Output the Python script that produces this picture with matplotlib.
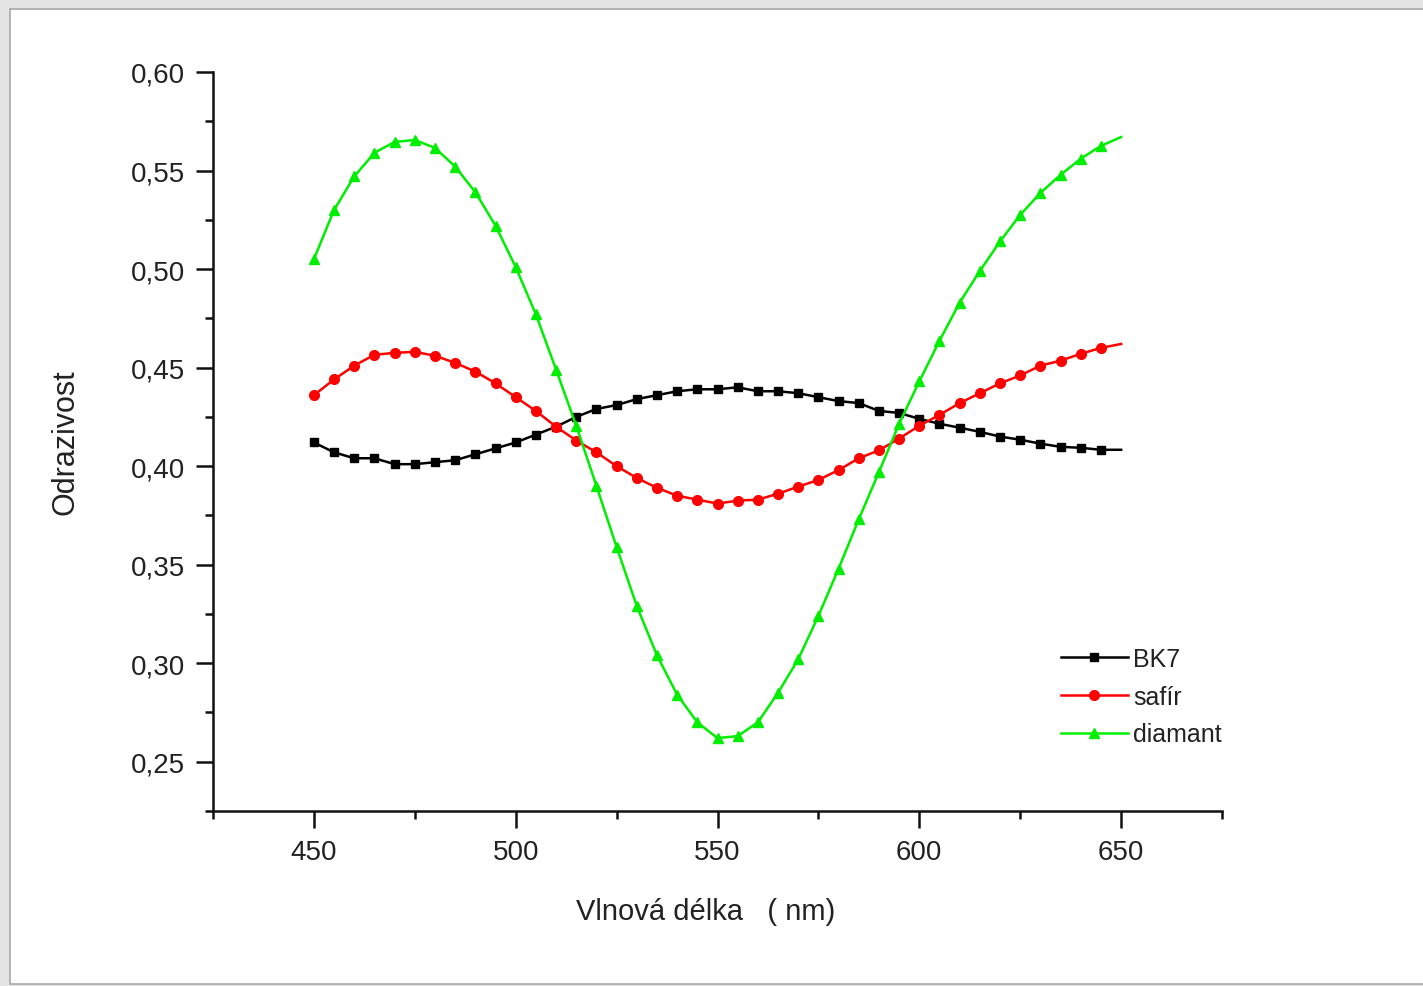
import numpy as np
import matplotlib
matplotlib.use("Agg")
import matplotlib.pyplot as plt
from matplotlib.patches import Rectangle
from matplotlib.ticker import MultipleLocator, FuncFormatter

plt.rcParams['font.family'] = ['Liberation Sans', 'DejaVu Sans']

# wavelength (nm), every 5 nm
vlnova_delka = np.arange(450, 655, 5)

bk7 = [0.412, 0.407, 0.404, 0.404, 0.401, 0.401, 0.402, 0.403, 0.406, 0.409,
       0.412, 0.416, 0.420, 0.425, 0.429, 0.431, 0.434, 0.436, 0.438, 0.439,
       0.439, 0.440, 0.438, 0.438, 0.437, 0.435, 0.433, 0.432, 0.428, 0.427,
       0.424, 0.4215, 0.4195, 0.4174, 0.415, 0.4134, 0.4114, 0.4098, 0.4093, 0.4083,
       0.4083]

safir = [0.436, 0.444, 0.451, 0.4565, 0.4575, 0.458, 0.456, 0.4524, 0.448, 0.442,
         0.435, 0.428, 0.420, 0.413, 0.407, 0.400, 0.394, 0.389, 0.385, 0.383,
         0.381, 0.3825, 0.383, 0.386, 0.3896, 0.393, 0.398, 0.404, 0.408, 0.414,
         0.4205, 0.426, 0.432, 0.437, 0.442, 0.446, 0.451, 0.4535, 0.457, 0.460,
         0.462]

diamant = [0.505, 0.530, 0.547, 0.559, 0.5645, 0.5655, 0.5615, 0.552, 0.539, 0.522,
           0.501, 0.477, 0.449, 0.4205, 0.390, 0.359, 0.329, 0.304, 0.284, 0.270,
           0.262, 0.263, 0.270, 0.285, 0.302, 0.324, 0.348, 0.373, 0.397, 0.4215,
           0.443, 0.4636, 0.483, 0.499, 0.514, 0.5275, 0.5386, 0.5478, 0.556, 0.5625,
           0.567]

fig = plt.figure(figsize=(14.23, 9.87), dpi=100)
fig.patch.set_facecolor('#e4e4e4')
fig.patches.append(Rectangle((10 / 1423, 0.002), 1.0, 1 - 10 / 987 - 0.002,
                             transform=fig.transFigure, facecolor='white',
                             edgecolor='#a8a8a8', linewidth=1.2, zorder=-10))

ax = fig.add_axes([213 / 1423, 1 - 812 / 987, (1222 - 213) / 1423, (812 - 73) / 987])
ax.set_facecolor('none')

mk = slice(0, len(vlnova_delka) - 1)
ax.plot(vlnova_delka, bk7, color='black', lw=1.8, marker='s', ms=6, markevery=mk, label='BK7')
ax.plot(vlnova_delka, safir, color='#ff0000', lw=1.8, marker='o', ms=7, markevery=mk, label='safír')
ax.plot(vlnova_delka, diamant, color='#00ee00', lw=1.8, marker='^', ms=7.5, markevery=mk, label='diamant')

ax.set_xlim(425, 675)
ax.set_ylim(0.225, 0.60)
ax.spines['top'].set_visible(False)
ax.spines['right'].set_visible(False)
for s in ['left', 'bottom']:
    ax.spines[s].set_linewidth(1.8)
    ax.spines[s].set_color('#111111')

ax.xaxis.set_major_locator(MultipleLocator(50))
ax.xaxis.set_minor_locator(MultipleLocator(25))
ax.yaxis.set_major_locator(MultipleLocator(0.05))
ax.yaxis.set_minor_locator(MultipleLocator(0.025))
ax.yaxis.set_major_formatter(FuncFormatter(lambda v, p: f"{v:.2f}".replace('.', ',')))
ax.tick_params(which='major', direction='out', length=12, width=1.8, labelsize=20,
               colors='#111111', labelcolor='#222222', pad=8)
ax.tick_params(which='minor', direction='out', length=6, width=1.8, colors='#111111')

ax.set_xlabel('Vlnová délka   ( nm)', fontsize=21, color='#222222')
ax.xaxis.set_label_coords(0.488, -0.117)
ax.set_ylabel('Odrazivost', fontsize=22, color='#222222', labelpad=36)

ax.legend(loc='lower right', bbox_to_anchor=(1.022, 0.057), frameon=False, fontsize=18,
          handlelength=2.7, handletextpad=0.2, labelspacing=0.55, labelcolor='#222222')

fig.savefig('out.png', dpi=100, facecolor=fig.get_facecolor())
